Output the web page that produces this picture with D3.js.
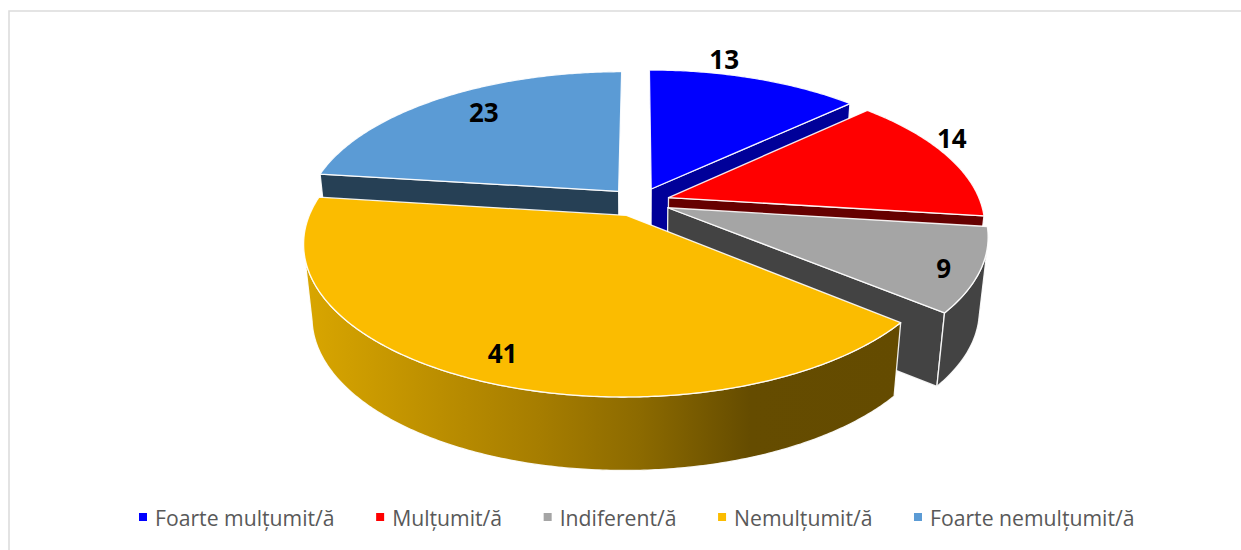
<!DOCTYPE html>
<html><head><meta charset="utf-8">
<script src="https://cdn.jsdelivr.net/npm/d3@7"></script>
<style>html,body{margin:0;background:#fff}svg{display:block}</style>
</head><body><svg id="c" width="1241" height="550"></svg>
<script>
const categories=["Foarte mulțumit/ă","Mulțumit/ă","Indiferent/ă","Nemulțumit/ă","Foarte nemulțumit/ă"];
const values=[13,14,9,41,23];
const topColors=["#0000ff","#ff0000","#a5a5a5","#fbbc00","#5b9bd5"];
const wallColors=["#000099","#660000","#434343","url(#gold)","#264055"];
const labelTurn=[-8,-5.9,1.7,-0.7,3];
const labelRadius=[1.247,1.19,0.998,0.957,0.90];
const goldStops=[[0,"#d9a600"],[0.227,"#bb8e00"],[0.395,"#a67d00"],[0.563,"#8c6a00"],[0.748,"#654c00"],[1,"#644b00"]];

const svg=d3.select("#c");
// frame: thin grey rule along top and left
svg.append("path").attr("d","M9 550V11H1241").attr("fill","none").attr("stroke","#dcdcdc").attr("stroke-width",1.6);

const cx=639,cy=202,A=312,B=144.2,k=0.1764,explode=0.1,depth=73.5,shrink=0.025;
const sx=d3.scaleLinear().domain([0,1]).range([0,A]);
const sy=d3.scaleLinear().domain([0,1]).range([0,-B]);
function project(X,Y,z){const w=1+k*Y;return [cx+sx(X)/w*(1-shrink*z),cy+sy(Y)/w+depth*z];}
const pie=d3.pie().sort(null).value(d=>d);
const arcs=pie(values);
const line=d3.line();
const defs=svg.append("defs");
const g=defs.append("linearGradient").attr("id","gold").attr("gradientUnits","userSpaceOnUse")
  .attr("x1",305).attr("x2",900).attr("y1",0).attr("y2",0);
goldStops.forEach(s=>g.append("stop").attr("offset",s[0]).attr("stop-color",s[1]));

function slicePoint(a,bis,z){return project(Math.sin(a)+explode*Math.sin(bis),Math.cos(a)+explode*Math.cos(bis),z);}
function centre(bis,z){return project(explode*Math.sin(bis),explode*Math.cos(bis),z);}
function angles(a0,a1){const n=Math.max(2,Math.ceil((a1-a0)/0.01));return d3.range(n+1).map(i=>a0+(a1-a0)*i/n);}

const order=[4,0,1,2,3];
const stroke={stroke:"#fff","stroke-opacity":0.9,"stroke-width":1.3,"stroke-linejoin":"round"};
function style(sel,fill){sel.attr("fill",fill);for(const p in stroke)sel.attr(p,stroke[p]);return sel;}
const curvedWall=[2,3];
// the wall's silhouette is tangent to the rim at these angles
const wallFrom=105*Math.PI/180,wallTo=258*Math.PI/180;
order.forEach(i=>{
  const d=arcs[i],bis=(d.startAngle+d.endAngle)/2,G=svg.append("g");
  // radial face that looks toward the viewer
  const faceAngle=(i===4)?d.startAngle:d.endAngle;
  if(i!==3){
    const pts=[centre(bis,0),slicePoint(faceAngle,bis,0),slicePoint(faceAngle,bis,1),centre(bis,1)];
    style(G.append("path").attr("d",line(pts)+"Z"),wallColors[i]);
  }
  // outer curved wall
  if(curvedWall.includes(i)){
    const as=angles(Math.max(d.startAngle,wallFrom),Math.min(d.endAngle,wallTo));
    const pts=as.map(a=>slicePoint(a,bis,0)).concat(as.slice().reverse().map(a=>slicePoint(a,bis,1)));
    style(G.append("path").attr("d",line(pts)+"Z"),wallColors[i]);
  }
  // top face
  const pts=[centre(bis,0)].concat(angles(d.startAngle,d.endAngle).map(a=>slicePoint(a,bis,0)));
  style(G.append("path").attr("d",line(pts)+"Z"),topColors[i]);
});

// data labels
arcs.forEach((d,i)=>{
  const a=(d.startAngle+d.endAngle)/2+labelTurn[i]*Math.PI/180,r=labelRadius[i];
  const p=project(r*Math.sin(a),r*Math.cos(a),0);
  svg.append("text").attr("x",p[0]).attr("y",p[1]).attr("text-anchor","middle").attr("dominant-baseline","central")
    .attr("font-family","'Open Sans'").attr("font-weight",700).attr("font-size",26).attr("fill","#000").text(values[i]);
});

// legend
const leg=svg.append("g");
let x=139;const legendY=517;
categories.forEach((c,i)=>{
  leg.append("rect").attr("x",x).attr("y",legendY-4).attr("width",8).attr("height",8).attr("fill",topColors[i]);
  const t=leg.append("text").attr("x",x+16).attr("y",legendY).attr("dominant-baseline","central")
    .attr("font-family","'Open Sans'").attr("font-size",21.2).attr("fill","#595959").text(c);
  x+=16+t.node().getComputedTextLength()+41.5;
});
</script></body></html>
